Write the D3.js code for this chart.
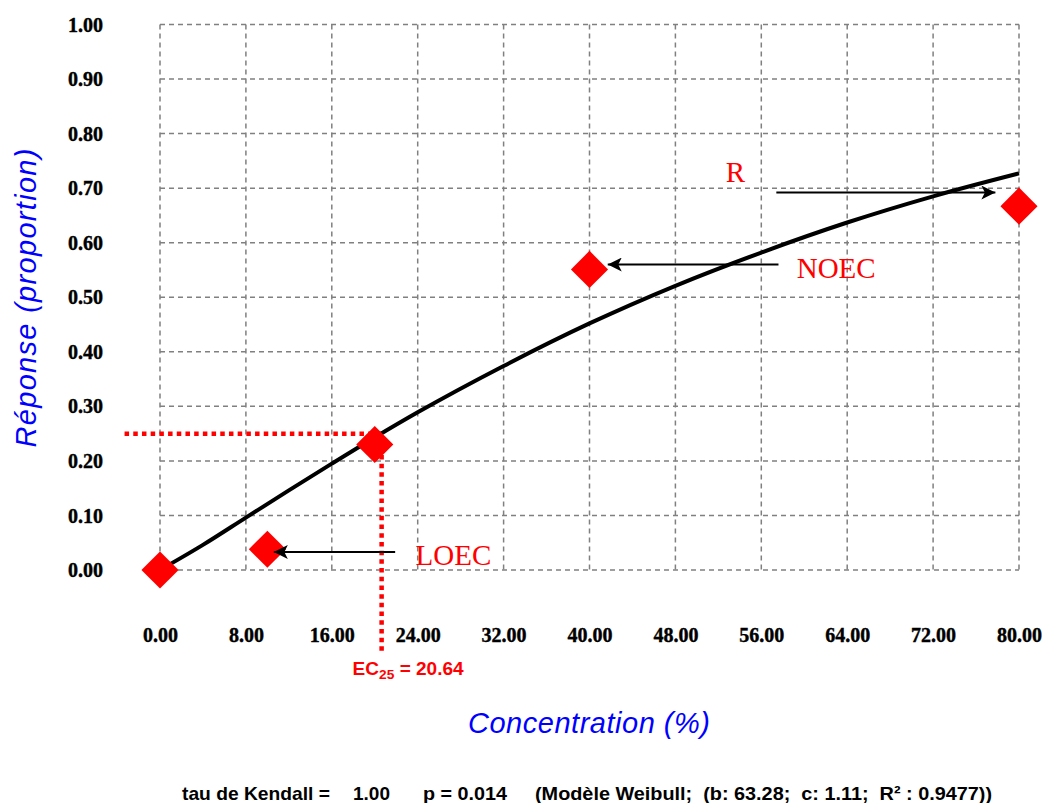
<!DOCTYPE html>
<html>
<head>
<meta charset="utf-8">
<script src="https://cdn.jsdelivr.net/npm/d3@7"></script>
<style>
  body { margin: 0; background: #fff; }
</style>
</head>
<body>
<div id="chart"></div>
<script>
// data
const concentrations = [0, 10, 20, 40, 80];
const responses = [0.0, 0.038, 0.23, 0.551, 0.667];

// fitted Weibull curve as drawn
const curveConc = [0, 4, 8, 12, 16, 20, 24, 32, 40, 48, 56, 64, 72, 80];
const curveResp = [0, 0.046, 0.096, 0.146, 0.195, 0.243, 0.289, 0.374, 0.452, 0.521, 0.582, 0.637, 0.685, 0.727];

const xTicks = [0, 8, 16, 24, 32, 40, 48, 56, 64, 72, 80];
const yTicks = [0, 0.1, 0.2, 0.3, 0.4, 0.5, 0.6, 0.7, 0.8, 0.9, 1.0];

const ec25 = 20.64;
const ecLevel = 0.25;

// annotations: label, text position, arrow from -> to (data units)
const annotations = [
  {label: "R",    tx: 52.7, ty: 0.711, x1: 57.4, x2: 77.8, y: 0.692},
  {label: "NOEC", tx: 59.3, ty: 0.535, x1: 57.6, x2: 41.7, y: 0.560},
  {label: "LOEC", tx: 23.8, ty: 0.009, x1: 21.9, x2: 10.6, y: 0.033}
];

const footer = [
  {text: "tau de Kendall =", x: 182, len: 148},
  {text: "1.00", x: 353},
  {text: "p = 0.014", x: 423, len: 84},
  {text: "(Modèle Weibull;  (b: 63.28;  c: 1.11;  R² : 0.9477))", x: 535, len: 457}
];

const W = 1045, H = 803;
const margin = {top: 24.5, right: 26, bottom: 233, left: 160};
const width = W - margin.left - margin.right;
const height = H - margin.top - margin.bottom;

const root = d3.select("#chart")
    .append("svg")
    .attr("width", W)
    .attr("height", H);

const svg = root.append("g")
    .attr("transform", `translate(${margin.left},${margin.top})`);

const xScale = d3.scaleLinear().domain([0, 80]).range([0, width]);
const yScale = d3.scaleLinear().domain([0, 1]).range([height, 0]);

// grid
svg.append("g")
    .selectAll("line.v")
    .data(xTicks)
    .join("line")
    .attr("x1", d => xScale(d)).attr("x2", d => xScale(d))
    .attr("y1", 0).attr("y2", height);

svg.append("g")
    .selectAll("line.h")
    .data(yTicks)
    .join("line")
    .attr("x1", 0).attr("x2", width)
    .attr("y1", d => yScale(d)).attr("y2", d => yScale(d));

svg.selectAll("g line")
    .attr("stroke", "#808080")
    .attr("stroke-width", 1.5)
    .attr("stroke-dasharray", "5,4");

// tick labels
const yAxis = svg.append("g")
    .attr("transform", "translate(-57,0)")
    .call(d3.axisLeft(yScale).tickValues(yTicks).tickSize(0).tickFormat(d3.format(".2f")));
const xAxis = svg.append("g")
    .attr("transform", `translate(0,${height + 55})`)
    .call(d3.axisBottom(xScale).tickValues(xTicks).tickSize(0).tickFormat(d3.format(".2f")));

[yAxis, xAxis].forEach(a => {
    a.select(".domain").remove();
    a.selectAll("text")
        .attr("font-family", "Liberation Serif, Times New Roman, serif")
        .attr("font-weight", "bold")
        .attr("font-size", 20)
        .attr("fill", "#000")
        .attr("stroke", "#000")
        .attr("stroke-width", 0.4);
});
yAxis.selectAll("text").attr("dy", "0.33em").attr("x", 0);

// EC25 dotted guides
svg.append("path")
    .attr("d", d3.line()([
        [xScale(-3.3), yScale(ecLevel)],
        [xScale(ec25), yScale(ecLevel)],
        [xScale(ec25), yScale(-0.152)]
    ]))
    .attr("fill", "none")
    .attr("stroke", "#ff0000")
    .attr("stroke-width", 4.5)
    .attr("stroke-dasharray", "4.5,4.2");

// fitted curve
const line = d3.line()
    .x(d => xScale(d[0]))
    .y(d => yScale(d[1]))
    .curve(d3.curveMonotoneX);

svg.append("path")
    .datum(curveConc.map((c, i) => [c, curveResp[i]]))
    .attr("fill", "none")
    .attr("stroke", "#000")
    .attr("stroke-width", 4)
    .attr("d", line);

// points
svg.append("g")
    .selectAll("path")
    .data(concentrations.map((c, i) => [c, responses[i]]))
    .join("path")
    .attr("d", d3.symbol(d3.symbolSquare, 690))
    .attr("transform", d => `translate(${xScale(d[0])},${yScale(d[1])}) rotate(45)`)
    .attr("fill", "#ff0000");

// arrows
root.append("defs").append("marker")
    .attr("id", "head")
    .attr("viewBox", "0 0 10 10")
    .attr("refX", 10).attr("refY", 5)
    .attr("markerWidth", 20).attr("markerHeight", 14)
    .attr("markerUnits", "userSpaceOnUse")
    .attr("orient", "auto")
    .append("path")
    .attr("d", "M0,0 L10,5 L0,10 L2.5,5 Z")
    .attr("fill", "#000");

svg.append("g")
    .selectAll("line")
    .data(annotations)
    .join("line")
    .attr("x1", d => xScale(d.x1)).attr("x2", d => xScale(d.x2))
    .attr("y1", d => yScale(d.y)).attr("y2", d => yScale(d.y))
    .attr("stroke", "#000")
    .attr("stroke-width", 2)
    .attr("marker-end", "url(#head)");

svg.append("g")
    .selectAll("text")
    .data(annotations)
    .join("text")
    .attr("x", d => xScale(d.tx))
    .attr("y", d => yScale(d.ty))
    .attr("font-family", "Liberation Serif, Times New Roman, serif")
    .attr("font-size", 29)
    .attr("fill", "#ff0000")
    .text(d => d.label);

// EC25 label
const ecText = svg.append("text")
    .attr("x", xScale(ec25) - 29)
    .attr("y", height + 105)
    .attr("font-family", "Liberation Sans, Arial, sans-serif")
    .attr("font-weight", "bold")
    .attr("font-size", 18)
    .attr("fill", "#ff0000")
    .attr("textLength", 111)
    .attr("lengthAdjust", "spacingAndGlyphs");
ecText.append("tspan").text("EC");
ecText.append("tspan").attr("font-size", 13).attr("dy", 4).text("25");
ecText.append("tspan").attr("dy", -4).text(" = " + ec25.toFixed(2));

// axis titles
root.append("text")
    .attr("transform", "translate(36,298) rotate(-90)")
    .attr("text-anchor", "middle")
    .attr("font-family", "Liberation Sans, Arial, sans-serif")
    .attr("font-style", "italic")
    .attr("font-size", 29)
    .attr("fill", "#0000ff")
    .attr("textLength", 299)
    .attr("lengthAdjust", "spacing")
    .text("Réponse (proportion)");

root.append("text")
    .attr("x", 468)
    .attr("y", 733)
    .attr("font-family", "Liberation Sans, Arial, sans-serif")
    .attr("font-style", "italic")
    .attr("font-size", 29)
    .attr("fill", "#0000ff")
    .attr("textLength", 242)
    .attr("lengthAdjust", "spacing")
    .text("Concentration (%)");

// footer line
root.append("g")
    .selectAll("text")
    .data(footer)
    .join("text")
    .attr("x", d => d.x)
    .attr("y", 800)
    .style("white-space", "pre")
    .attr("font-family", "Liberation Sans, Arial, sans-serif")
    .attr("font-weight", "bold")
    .attr("font-size", 19)
    .attr("fill", "#000")
    .attr("textLength", d => d.len || null)
    .attr("lengthAdjust", "spacingAndGlyphs")
    .text(d => d.text);
</script>
</body>
</html>
